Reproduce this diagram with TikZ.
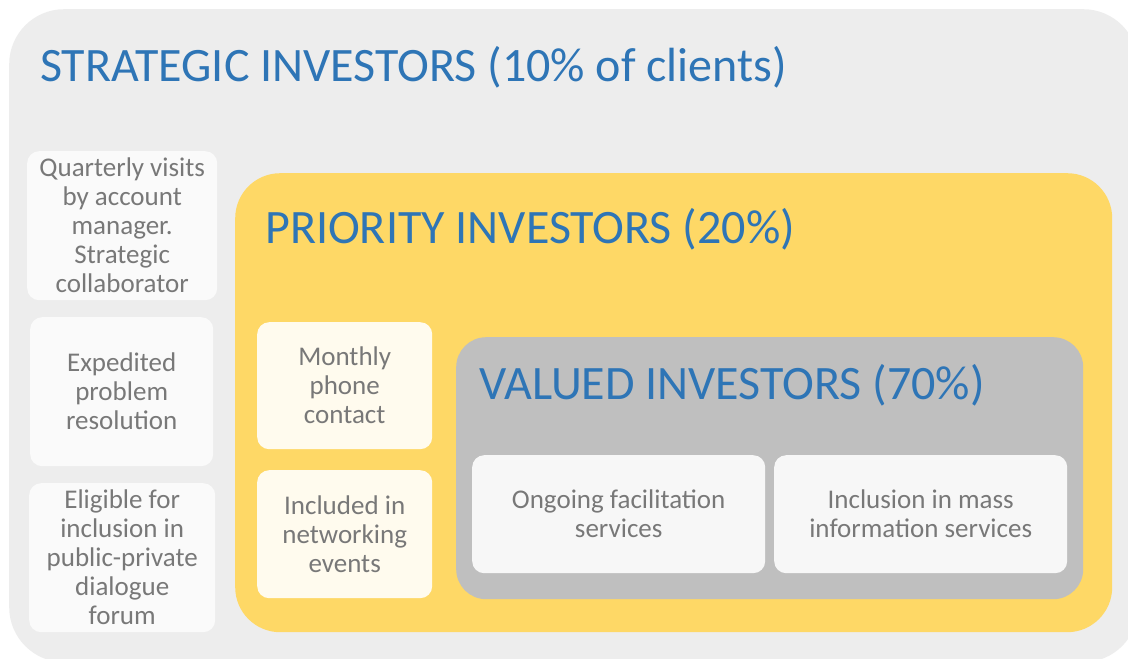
\documentclass[tikz,border=0pt]{standalone}
\usepackage{fontspec}
\setmainfont{Carlito}
\usetikzlibrary{positioning}

\definecolor{fondgris}{HTML}{EDEDED}
\definecolor{fondjaune}{HTML}{FED866}
\definecolor{fondvaleur}{HTML}{BFBFBF}
\definecolor{boiteclaire}{HTML}{FAFAFA}
\definecolor{boitecreme}{HTML}{FFFBEE}
\definecolor{boiteblanche}{HTML}{F7F7F7}
\definecolor{titrebleu}{HTML}{2E75B6}
\definecolor{textegris}{HTML}{787878}

\begin{document}
\begin{tikzpicture}[x=1pt,y=-1pt]
        \tikzset{
          cadre/.style={anchor=north west,inner sep=0pt},
          boite/.style={
            anchor=north west,align=center,inner sep=0pt,
            font=\fontsize{27}{29}\selectfont,text=textegris,
            rounded corners=12pt,
          },
          titre/.style={anchor=base west,inner sep=0pt,text=titrebleu,
            font=\fontsize{48}{58}\selectfont},
          }
        \useasboundingbox (0,0) rectangle (1128,659);
        \fill[white] (0,0) rectangle (1128,659);
        \clip (0,0) rectangle (1128,659);

        % the three levels of clients
        \node[cadre, fill=fondgris, rounded corners=55pt, minimum width=1129pt, minimum height=653pt] (strat) at (9,9) {};
        \node[cadre, fill=fondjaune, rounded corners=45pt, minimum width=877pt, minimum height=459pt] (prio) at (235,173) {};
        \node[cadre, fill=fondvaleur, rounded corners=30pt, minimum width=627pt, minimum height=262pt] (val) at (456,337) {};

        \node[titre] (titrestrat) at (40,81) {STRATEGIC INVESTORS (10\% of clients)};
        \node[titre] (titreprio) at (265,243) {PRIORITY INVESTORS (20\%)};
        \node[titre] (titreval) at (479,399) {VALUED INVESTORS (70\%)};

        % services of the strategic level
        \node[boite, fill=boiteclaire, minimum width=190pt, minimum height=149pt] (visites) at (27,151) {Quarterly visits\\by account\\manager.\\Strategic\\collaborator};
        \node[boite, fill=boiteclaire, minimum width=183pt, minimum height=149pt] (probleme) at (30,317) {Expedited\\problem\\resolution};
        \node[boite, fill=boiteclaire, minimum width=186pt, minimum height=149pt] (forum) at (29,483) {Eligible for\\inclusion in\\public-private\\dialogue\\forum};

        % services of the priority level
        \node[boite, fill=boitecreme, minimum width=175pt, minimum height=127pt] (appel) at (257,322) {Monthly\\phone\\contact};
        \node[boite, fill=boitecreme, minimum width=175pt, minimum height=128pt] (reseau) at (257,470) {Included in\\networking\\events};

        % services of the valued level
        \node[boite, fill=boiteblanche, minimum width=293pt, minimum height=118pt] (facilitation) at (472,455) {Ongoing facilitation\\services};
        \node[boite, fill=boiteblanche, minimum width=293pt, minimum height=118pt] (information) at (774,455) {Inclusion in mass\\information services};
      \end{tikzpicture}
\end{document}
